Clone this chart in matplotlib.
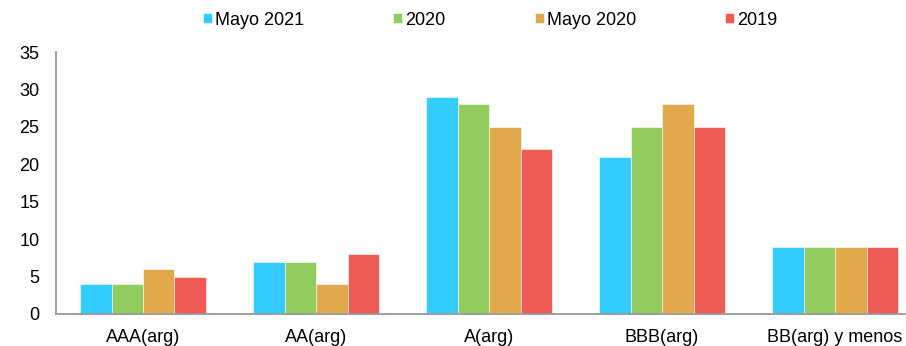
import matplotlib.pyplot as plt
import numpy as np

plt.rcParams['font.family'] = ['Liberation Sans', 'DejaVu Sans']

categorias = ['AAA(arg)', 'AA(arg)', 'A(arg)', 'BBB(arg)', 'BB(arg) y menos']
series = ['Mayo 2021', '2020', 'Mayo 2020', '2019']
mayo_2021 = [4, 7, 29, 21, 9]
anio_2020 = [4, 7, 28, 25, 9]
mayo_2020 = [6, 4, 25, 28, 9]
anio_2019 = [5, 8, 22, 25, 9]
valores = [mayo_2021, anio_2020, mayo_2020, anio_2019]
colores = ['#33ccff', '#92cb5e', '#e2a84c', '#ee5a54']

fig = plt.figure(figsize=(9.06, 3.46), dpi=100)
ax = fig.add_axes([0.0618, 0.0925, 0.9372, 0.7572])

x = np.arange(len(categorias))
ancho = 0.182
for i, (nombre, vals, col) in enumerate(zip(series, valores, colores)):
    ax.bar(x + (i - 1.5) * ancho, vals, ancho, color=col, label=nombre,
           edgecolor='white', linewidth=0.4)

ax.set_ylim(0, 35)
ax.set_yticks(range(0, 36, 5))
ax.set_xlim(-0.503, 4.405)
ax.set_xticks(x)
ax.set_xticklabels(categorias)
ax.tick_params(axis='both', length=0, labelsize=13)
ax.tick_params(axis='y', pad=12)
ax.tick_params(axis='x', pad=11)

for s in ['top', 'right']:
    ax.spines[s].set_visible(False)
for s in ['left', 'bottom']:
    ax.spines[s].set_color('#999999')
    ax.spines[s].set_linewidth(1.3)

fig.legend(loc='center', bbox_to_anchor=(0.541, 0.942), ncol=4, frameon=False,
           fontsize=13, handlelength=0.5, handleheight=0.5, handletextpad=0.15,
           columnspacing=4.95)

fig.savefig('out.png', dpi=100)
